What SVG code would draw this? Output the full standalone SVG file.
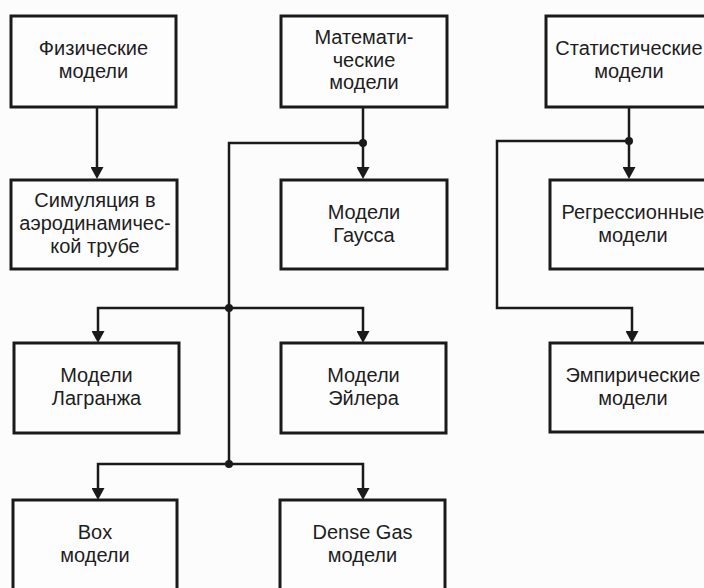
<svg xmlns="http://www.w3.org/2000/svg" width="704" height="588" viewBox="0 0 704 588">
<defs>
<style>
.box{fill:#fdfdfd;stroke:#1a1a1a;stroke-width:3}
.t{font-family:"Liberation Sans",Arial,sans-serif;font-size:20px;fill:#1e1e1e;text-anchor:middle}
.c{fill:none;stroke:#1a1a1a;stroke-width:2.5}
.dot{fill:#1a1a1a}
</style>
<marker id="ar" viewBox="0 0 12 13" refX="5" refY="6.5" markerWidth="12" markerHeight="13" markerUnits="userSpaceOnUse" orient="auto">
<path d="M0,0 L12,6.5 L0,13 z" fill="#1a1a1a"/>
</marker>
</defs>
<rect x="0" y="0" width="704" height="588" fill="#fcfcfc"/>
<g id="connectors">
<path class="c" d="M97,107 V172" marker-end="url(#ar)"/>
<path class="c" d="M363,107 V172" marker-end="url(#ar)"/>
<path class="c" d="M363,143 H229 V464"/>
<path class="c" d="M229,308 H98 V336" marker-end="url(#ar)"/>
<path class="c" d="M229,308 H363 V336" marker-end="url(#ar)"/>
<path class="c" d="M229,464 H98 V493" marker-end="url(#ar)"/>
<path class="c" d="M229,464 H363 V493" marker-end="url(#ar)"/>
<path class="c" d="M629,107 V172" marker-end="url(#ar)"/>
<path class="c" d="M629,141 H497 V308 H632 V336" marker-end="url(#ar)"/>
<circle class="dot" cx="363" cy="143" r="4"/>
<circle class="dot" cx="229" cy="308" r="4"/>
<circle class="dot" cx="229" cy="464" r="4"/>
<circle class="dot" cx="629" cy="141" r="4"/>
</g>
<g id="n1"><rect class="box" x="11" y="16" width="165" height="91"/><text class="t" x="93.5" y="55">Физические</text><text class="t" x="93.5" y="78">модели</text></g>
<g id="n2"><rect class="box" x="11" y="180" width="166" height="89"/><text class="t" x="95" y="207">Симуляция в</text><text class="t" x="95" y="230">аэродинамичес-</text><text class="t" x="95" y="253">кой трубе</text></g>
<g id="n3"><rect class="box" x="281" y="16" width="166" height="91"/><text class="t" x="364" y="44">Математи-</text><text class="t" x="364" y="67">ческие</text><text class="t" x="364" y="89">модели</text></g>
<g id="n4"><rect class="box" x="281" y="180" width="166" height="89"/><text class="t" x="364" y="219">Модели</text><text class="t" x="364" y="242">Гаусса</text></g>
<g id="n5"><rect class="box" x="14" y="343" width="165" height="90"/><text class="t" x="96.5" y="382">Модели</text><text class="t" x="96.5" y="405">Лагранжа</text></g>
<g id="n6"><rect class="box" x="281" y="343" width="165" height="90"/><text class="t" x="363.5" y="382">Модели</text><text class="t" x="363.5" y="405">Эйлера</text></g>
<g id="n7"><rect class="box" x="13" y="500" width="164" height="95"/><text class="t" x="95" y="539">Box</text><text class="t" x="95" y="562">модели</text></g>
<g id="n8"><rect class="box" x="280" y="500" width="165" height="95"/><text class="t" x="362.5" y="539">Dense Gas</text><text class="t" x="362.5" y="562">модели</text></g>
<g id="n9"><rect class="box" x="546" y="16" width="166" height="91"/><text class="t" x="629" y="55">Статистические</text><text class="t" x="629" y="78">модели</text></g>
<g id="n10"><rect class="box" x="550" y="180" width="166" height="89"/><text class="t" x="633" y="219">Регрессионные</text><text class="t" x="633" y="242">модели</text></g>
<g id="n11"><rect class="box" x="550" y="343" width="166" height="89"/><text class="t" x="633" y="382">Эмпирические</text><text class="t" x="633" y="405">модели</text></g>
</svg>
